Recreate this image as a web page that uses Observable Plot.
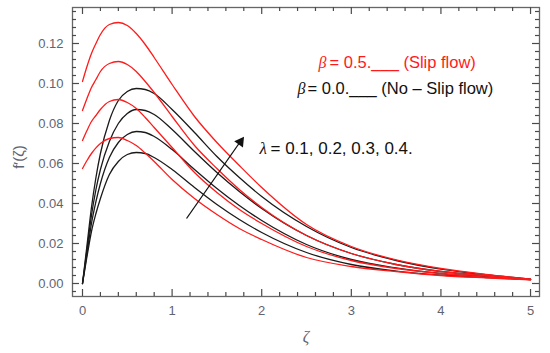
<!DOCTYPE html>
<html>
<head>
<meta charset="utf-8">
<script src="https://cdn.jsdelivr.net/npm/d3@7"></script>
<script src="https://cdn.jsdelivr.net/npm/@observablehq/plot@0.6"></script>
<style>
  html, body { margin: 0; padding: 0; background: #fff; }
  #chart { width: 550px; height: 353px; }
</style>
</head>
<body>
<div id="chart"></div>
<script>
// ---- data ----
const zeta = [0, 0.05, 0.1, 0.15, 0.2, 0.3, 0.4, 0.5, 0.6, 0.7, 0.8, 1.0, 1.25, 1.5, 1.75, 2.0, 2.5, 3.0, 3.5, 4.0, 4.5, 5.0];
const lambdas = [0.1, 0.2, 0.3, 0.4];

// beta = 0.5 (slip flow), red
const slip_l01 = [0.0575, 0.0615, 0.065, 0.0678, 0.070, 0.0725, 0.073, 0.0715, 0.069, 0.0652, 0.061, 0.052, 0.0425, 0.0345, 0.0275, 0.022, 0.013, 0.0085, 0.006, 0.004, 0.0028, 0.0018];
const slip_l02 = [0.0715, 0.0765, 0.081, 0.084, 0.087, 0.091, 0.092, 0.0905, 0.0875, 0.083, 0.078, 0.068, 0.0555, 0.0455, 0.037, 0.030, 0.0185, 0.0115, 0.0075, 0.005, 0.0032, 0.002];
const slip_l03 = [0.0865, 0.0925, 0.098, 0.102, 0.106, 0.110, 0.111, 0.1095, 0.106, 0.101, 0.0955, 0.0835, 0.069, 0.0575, 0.047, 0.038, 0.024, 0.015, 0.0095, 0.006, 0.0038, 0.0021];
const slip_l04 = [0.101, 0.1085, 0.115, 0.120, 0.1245, 0.1295, 0.1305, 0.129, 0.125, 0.1195, 0.113, 0.0995, 0.0835, 0.0705, 0.059, 0.048, 0.0295, 0.0185, 0.0118, 0.0075, 0.0045, 0.0022];

// beta = 0.0 (no-slip flow), black
const noslip_l01 = [0, 0.0135, 0.026, 0.035, 0.0425, 0.0545, 0.061, 0.0645, 0.0655, 0.065, 0.063, 0.057, 0.048, 0.0395, 0.032, 0.0255, 0.0155, 0.0095, 0.0062, 0.0042, 0.003, 0.0019];
const noslip_l02 = [0, 0.015, 0.030, 0.041, 0.050, 0.063, 0.0705, 0.0745, 0.076, 0.0755, 0.0735, 0.067, 0.057, 0.0475, 0.039, 0.0315, 0.0195, 0.012, 0.0078, 0.005, 0.0033, 0.002];
const noslip_l03 = [0, 0.017, 0.034, 0.047, 0.057, 0.071, 0.080, 0.085, 0.087, 0.0865, 0.0845, 0.077, 0.066, 0.0555, 0.046, 0.0375, 0.024, 0.015, 0.0095, 0.006, 0.0038, 0.0021];
const noslip_l04 = [0, 0.019, 0.038, 0.053, 0.065, 0.0815, 0.0915, 0.096, 0.0975, 0.097, 0.095, 0.087, 0.0755, 0.0635, 0.053, 0.0435, 0.0285, 0.018, 0.0115, 0.0072, 0.0044, 0.0022];

const xTickValues = [0, 1, 2, 3, 4, 5];
const yTickValues = [0, 0.02, 0.04, 0.06, 0.08, 0.10, 0.12];
const yTickLabels = ["0.00", "0.02", "0.04", "0.06", "0.08", "0.10", "0.12"];

// ---- build tables ----
function toRows(values, lambda, beta) {
  return values.map((v, i) => ({zeta: zeta[i], f: v, lambda, beta}));
}
const slipRows = [slip_l01, slip_l02, slip_l03, slip_l04].flatMap((s, k) => toRows(s, lambdas[k], 0.5));
const noslipRows = [noslip_l01, noslip_l02, noslip_l03, noslip_l04].flatMap((s, k) => toRows(s, lambdas[k], 0.0));

const xDomain = [-0.1116, 5.1];
const yDomain = [-0.0065, 0.138];
const xMinor = d3.range(-1, 26).map(k => k * 0.2).filter(v => v > xDomain[0] && v < xDomain[1] && Math.abs(v - Math.round(v)) > 1e-6);
const yMinor = d3.range(-1, 35).map(k => k * 0.004).filter(v => v > yDomain[0] && v < yDomain[1] && Math.abs(v / 0.02 - Math.round(v / 0.02)) > 1e-6);

// tick lengths expressed in data units
const pxX = (xDomain[1] - xDomain[0]) / 467;
const pxY = (yDomain[1] - yDomain[0]) / 289;

const axisColor = "#666";
const tickColor = "#4a4a4a";
const labelColor = "#5f6470";
const font = "Liberation Sans, Arial, sans-serif";

function xTicks(values, len) {
  return [
    Plot.ruleX(values, {x: d => d, y1: () => yDomain[0], y2: () => yDomain[0] + len * pxY, stroke: tickColor, strokeWidth: 1.2}),
    Plot.ruleX(values, {x: d => d, y1: () => yDomain[1] - len * pxY, y2: () => yDomain[1], stroke: tickColor, strokeWidth: 1.2})
  ];
}
function yTicks(values, len) {
  return [
    Plot.ruleY(values, {y: d => d, x1: () => xDomain[0], x2: () => xDomain[0] + len * pxX, stroke: tickColor, strokeWidth: 1.2}),
    Plot.ruleY(values, {y: d => d, x1: () => xDomain[1] - len * pxX, x2: () => xDomain[1], stroke: tickColor, strokeWidth: 1.2})
  ];
}

const plot = Plot.plot({
  width: 550,
  height: 353,
  marginLeft: 72,
  marginRight: 11,
  marginTop: 7,
  marginBottom: 57,
  style: {fontFamily: font, background: "#fff"},
  x: {domain: xDomain, axis: null},
  y: {domain: yDomain, axis: null},
  marks: [
    // tick labels
    Plot.axisX(xTickValues, {anchor: "bottom", tickSize: 0, tickPadding: 9, tickFormat: d => String(d), label: null, fontSize: 13, fill: labelColor}),
    Plot.axisY(yTickValues, {anchor: "left", tickSize: 0, tickPadding: 9, tickFormat: (d, i) => yTickLabels[i], label: null, fontSize: 13, fill: labelColor}),
    Plot.frame({stroke: axisColor, strokeWidth: 1.3}),
    // curves
    Plot.line(noslipRows, {x: "zeta", y: "f", z: "lambda", stroke: "#1a1a1a", strokeWidth: 1.3, curve: "monotone-x"}),
    Plot.line(slipRows, {x: "zeta", y: "f", z: "lambda", stroke: "#ff1a1a", strokeWidth: 1.3, curve: "monotone-x"}),
    // arrow
    Plot.link([0], {x1: () => 1.161, y1: () => 0.0325, x2: () => 1.77, y2: () => 0.0715, stroke: "#111", strokeWidth: 1.3}),
    Plot.dot([0], {x: () => 1.762, y: () => 0.0708, symbol: "triangle", r: 4, rotate: 35.5, fill: "#111", stroke: "none"}),
    // annotations
    Plot.text(["β"], {x: () => 2.634, y: () => 0.1105, text: d => d, textAnchor: "start", fill: "#ff1a1a", fontSize: 16, fontStyle: "italic", fontFamily: "Liberation Serif, serif"}),
    Plot.text(["= 0.5.___ (Slip flow)"], {x: () => 2.757, y: () => 0.1105, text: d => d, textAnchor: "start", fill: "#ff1a1a", fontSize: 16.5}),
    Plot.text(["β"], {x: () => 2.400, y: () => 0.0975, text: d => d, textAnchor: "start", fill: "#111", fontSize: 16, fontStyle: "italic", fontFamily: "Liberation Serif, serif"}),
    Plot.text(["= 0.0.___ (No – Slip flow)"], {x: () => 2.511, y: () => 0.0975, text: d => d, textAnchor: "start", fill: "#111", fontSize: 16.5}),
    Plot.text(["λ"], {x: () => 1.975, y: () => 0.0675, text: d => d, textAnchor: "start", fill: "#111", fontSize: 17, fontStyle: "italic", fontFamily: "Liberation Serif, serif"}),
    Plot.text(["= 0.1, 0.2, 0.3, 0.4."], {x: () => 2.098, y: () => 0.0675, text: d => d, textAnchor: "start", fill: "#111", fontSize: 17}),
    // inward ticks on all four sides (drawn last, on top)
    ...xTicks(xTickValues, 7),
    ...xTicks(xMinor, 4),
    ...yTicks(yTickValues, 7),
    ...yTicks(yMinor, 4)
  ]
});

// axis titles
const svg = d3.select(plot);
svg.append("text")
  .attr("x", 306).attr("y", 342)
  .attr("text-anchor", "middle")
  .attr("font-family", "Liberation Serif, serif")
  .attr("font-style", "italic")
  .attr("font-size", 16)
  .attr("fill", labelColor)
  .text("ζ");
svg.append("text")
  .attr("transform", "translate(24,157) rotate(-90)")
  .attr("text-anchor", "middle")
  .attr("font-family", font)
  .attr("font-size", 15)
  .attr("fill", labelColor)
  .text("f′(ζ)");

document.getElementById("chart").appendChild(plot);
</script>
</body>
</html>
